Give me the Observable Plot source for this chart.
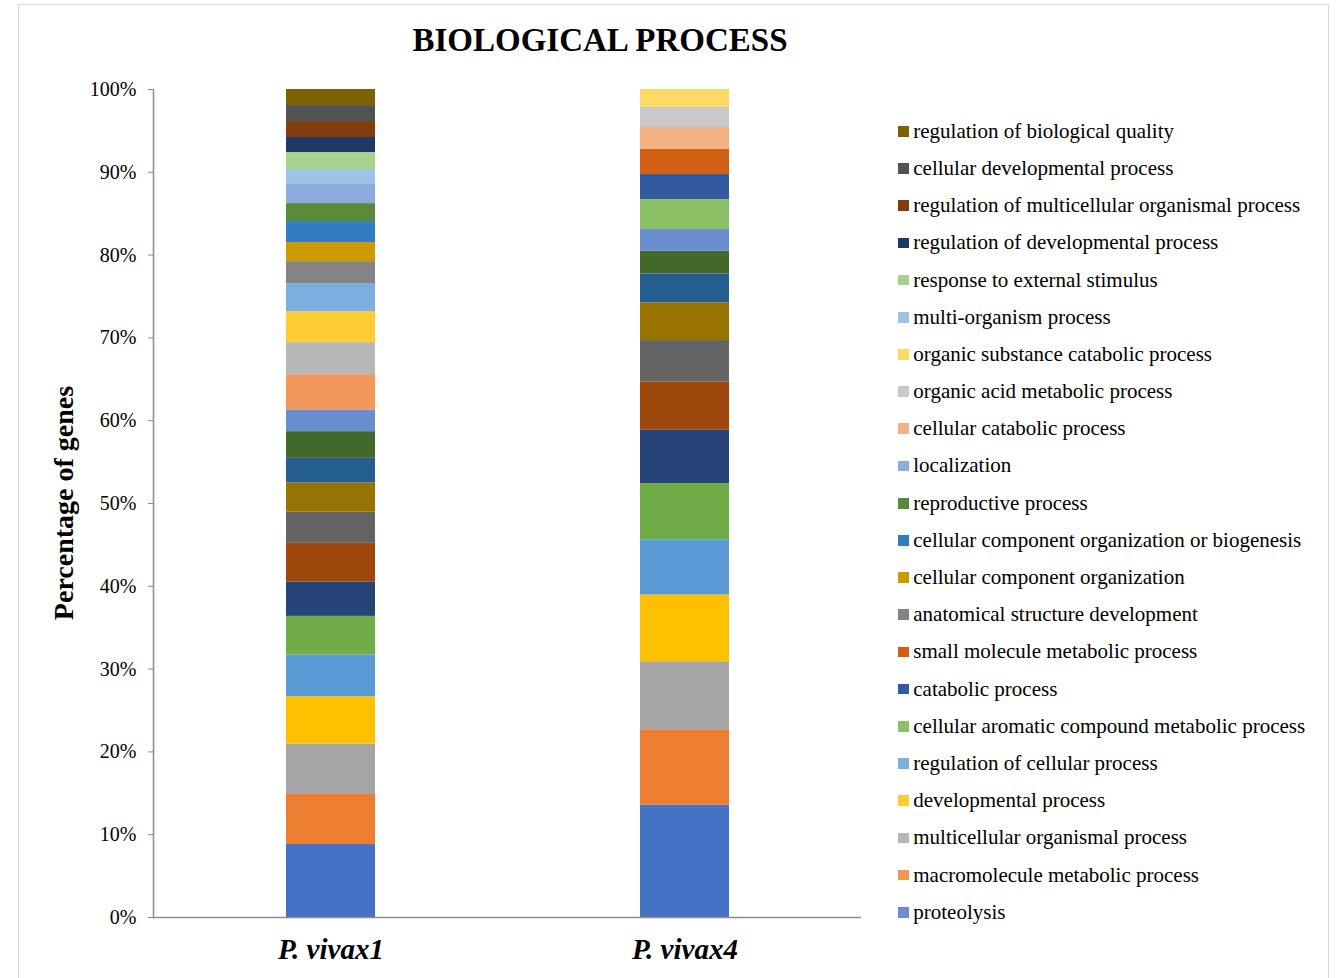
<!DOCTYPE html>
<html>
<head>
<meta charset="utf-8">
<script src="https://cdn.jsdelivr.net/npm/d3@7"></script>
<script src="https://cdn.jsdelivr.net/npm/@observablehq/plot@0.6"></script>
<style>
  body { margin: 0; background: #fff; }
  #chart {
    position: relative; width: 1337px; height: 978px; overflow: hidden;
    font-family: "Liberation Serif", "Times New Roman", serif; color: #000; background: #fff;
  }
  #frame {
    position: absolute; left: 18px; top: 4px; width: 1311px; height: 1100px;
    border: 1px solid #d9d9d9; box-sizing: border-box;
  }
  #title {
    position: absolute; left: 0; width: 1200px; top: 24px; text-align: center;
    font-weight: bold; font-size: 33px; line-height: 32px; white-space: nowrap;
  }
  #ytitle {
    position: absolute; left: 64px; top: 503px; font-weight: bold; font-size: 28px;
    line-height: 30px; white-space: nowrap; transform: translate(-50%, -50%) rotate(-90deg);
  }
  #plot { position: absolute; left: 0; top: 60px; }
  #legend { position: absolute; left: 898px; top: 112.7px; }
  .row { display: flex; align-items: center; height: 37.2px; font-size: 21px; white-space: nowrap; }
  .sw { width: 10.7px; height: 10.7px; margin-right: 4.6px; flex: none; }
</style>
</head>
<body>
<div id="chart">
  <div id="frame"></div>
  <div id="title">BIOLOGICAL PROCESS</div>
  <div id="ytitle">Percentage of genes</div>
  <div id="plot"></div>
  <div id="legend"></div>
</div>
<script>
// Samples on the x axis
const samples = ["P. vivax1", "P. vivax4"];

// GO terms in stacking order (bottom to top); the first twelve are not listed in the legend
const terms = [
  "term 1", "term 2", "term 3", "term 4", "term 5", "term 6",
  "term 7", "term 8", "term 9", "term 10", "term 11", "term 12",
  "proteolysis",
  "macromolecule metabolic process",
  "multicellular organismal process",
  "developmental process",
  "regulation of cellular process",
  "cellular aromatic compound metabolic process",
  "catabolic process",
  "small molecule metabolic process",
  "anatomical structure development",
  "cellular component organization",
  "cellular component organization or biogenesis",
  "reproductive process",
  "localization",
  "cellular catabolic process",
  "organic acid metabolic process",
  "organic substance catabolic process",
  "multi-organism process",
  "response to external stimulus",
  "regulation of developmental process",
  "regulation of multicellular organismal process",
  "cellular developmental process",
  "regulation of biological quality"
];

// One fill per term, same order as terms
const termColors = [
  "#4472C4", "#ED7D31", "#A5A5A5", "#FFC000", "#5B9BD5", "#70AD47",
  "#264478", "#9E480E", "#636363", "#997300", "#255E91", "#43682B",
  "#698ED0", "#F1975A", "#B7B7B7", "#FFCD33", "#7CAFDD", "#8CC168",
  "#335AA1", "#D26012", "#848484", "#CC9A00", "#327DC2", "#5A8A39",
  "#8FAADC", "#F4B183", "#C9C9C9", "#FFD966", "#9DC3E6", "#A9D18E",
  "#203864", "#843C0C", "#525252", "#7F6000"
];

// Percentage of genes per term, same order as terms
const vivax1 = [
  8.82, 6.04, 6.09, 5.71, 5.04, 4.67, 4.15, 4.67, 3.79, 3.50, 2.97, 3.23,
  2.62, 4.26, 3.87, 3.74, 3.39, 0, 0, 0, 2.65, 2.30, 2.54, 2.17,
  2.30, 0, 0, 0, 1.81, 2.06, 1.81, 1.93, 1.93, 1.94
];
const vivax4 = [
  13.58, 9.10, 8.21, 8.06, 6.68, 6.77, 6.44, 5.85, 4.99, 4.55, 3.50, 2.73,
  2.63, 0, 0, 0, 0, 3.62, 3.02, 3.02, 0, 0, 0, 0,
  0, 2.66, 2.42, 2.17, 0, 0, 0, 0, 0, 0
];

const yTicks = [0, 10, 20, 30, 40, 50, 60, 70, 80, 90, 100];

// Legend shows the terms from "proteolysis" upward, listed top term first
const legendTerms = terms.slice(12).reverse();

const seriesBySample = [vivax1, vivax4];
const rows = samples.flatMap((sample, i) =>
  terms.map((term, j) => ({sample, term, value: seriesBySample[i][j]}))
).filter(d => d.value > 0);

const font = "'Liberation Serif', 'Times New Roman', serif";
const axisGray = "#8c8c8c";

const plot = Plot.plot({
  width: 880,
  height: 918,
  marginLeft: 153,
  marginRight: 19,
  marginTop: 29,
  marginBottom: 61,
  style: {fontFamily: font, fontSize: "20px", color: "#000", background: "transparent"},
  x: {domain: samples, paddingInner: 0.75, paddingOuter: 0.375, label: null},
  y: {domain: [0, 100], label: null},
  color: {domain: terms, range: termColors},
  marks: [
    Plot.barY(rows, {x: "sample", y: "value", fill: "term"}),
    // vertical axis line along the left edge of the plotting area
    Plot.frame({anchor: "left", stroke: axisGray, strokeWidth: 1.5}),
    Plot.axisY({
      ticks: yTicks, tickFormat: d => d + "%", tickSize: 5, tickPadding: 12,
      stroke: axisGray, fill: "#000", fontSize: 20, label: null
    }),
    Plot.axisX({
      tickSize: 0, tickPadding: 21, fontSize: 29, fontWeight: "bold",
      fontStyle: "italic", fill: "#000", label: null
    }),
    Plot.ruleY([0], {stroke: axisGray, strokeWidth: 1.5})
  ]
});
document.getElementById("plot").appendChild(plot);

const color = plot.scale("color");
const legend = document.getElementById("legend");
for (const term of legendTerms) {
  const row = document.createElement("div");
  row.className = "row";
  const sw = document.createElement("div");
  sw.className = "sw";
  sw.style.background = color.apply(term);
  const label = document.createElement("span");
  label.textContent = term;
  row.append(sw, label);
  legend.appendChild(row);
}
</script>
</body>
</html>
